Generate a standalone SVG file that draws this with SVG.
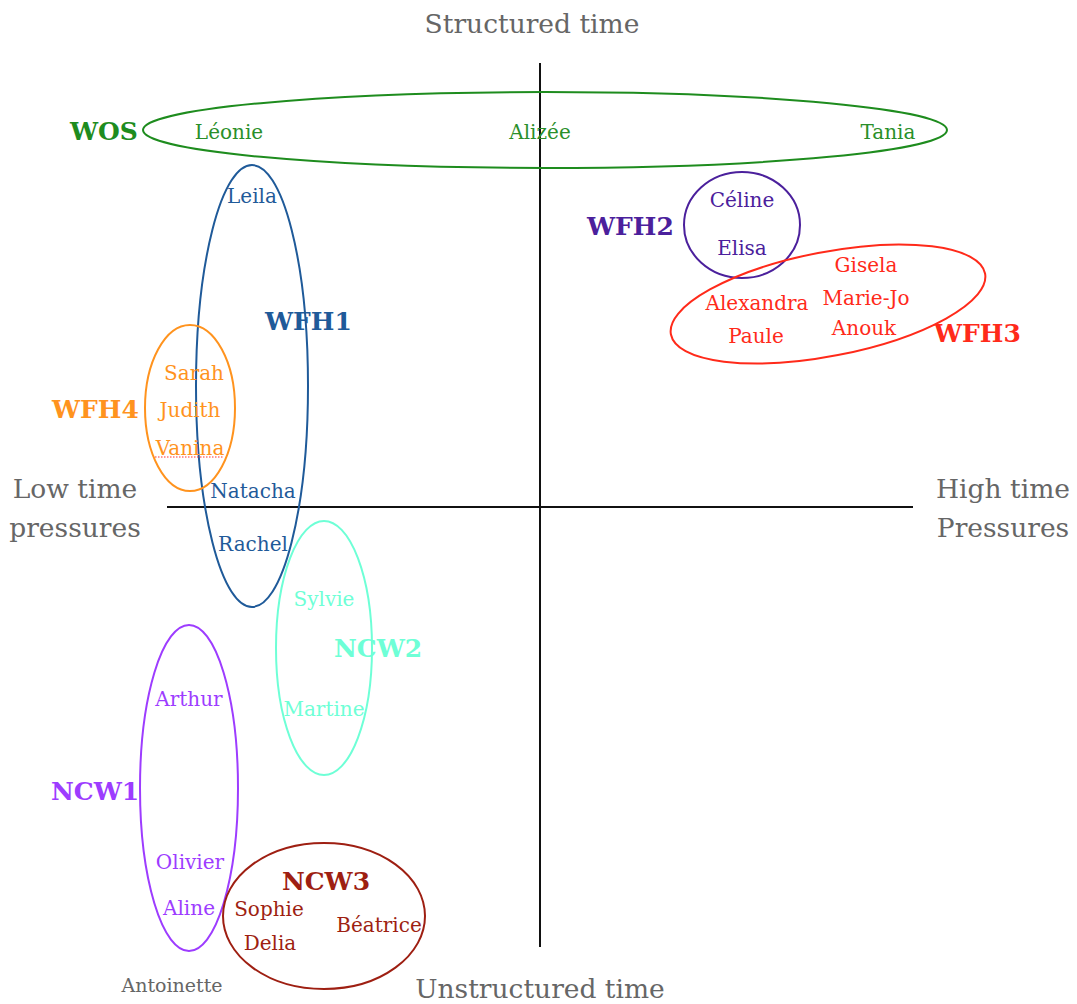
<svg xmlns="http://www.w3.org/2000/svg" width="1077" height="1004" viewBox="0 0 1077 1004">
<style>
text{font-family:"DejaVu Serif","Liberation Serif",serif;}
.ax{font-size:26.5px;fill:#666;}
.nm{font-size:20px;text-anchor:middle;}
.lb{font-size:25px;font-weight:bold;}
.el{fill:none;stroke-width:2;}
.axis{stroke:#111;stroke-width:2;}
</style>
<rect width="1077" height="1004" fill="#fff"/>
<g id="axes">
<line class="axis" x1="540" y1="63" x2="540" y2="947"/>
<line class="axis" x1="167" y1="507" x2="913" y2="507"/>
<text class="ax" x="532" y="33" text-anchor="middle">Structured time</text>
<text class="ax" x="540" y="998" text-anchor="middle">Unstructured time</text>
<text class="ax" x="75" y="498" text-anchor="middle">Low time</text>
<text class="ax" x="75" y="537" text-anchor="middle">pressures</text>
<text class="ax" x="1003" y="498" text-anchor="middle">High time</text>
<text class="ax" x="1003" y="537" text-anchor="middle">Pressures</text>
</g>
<g id="WOS">
<ellipse class="el" cx="545" cy="130" rx="402" ry="38" stroke="#1e8c1e"/>
<text class="lb" x="70" y="140" fill="#1e8c1e">WOS</text>
<g fill="#2a8f2a"><text class="nm" x="229" y="139">Léonie</text><text class="nm" x="540" y="139">Alizée</text><text class="nm" x="888" y="139">Tania</text></g>
</g>
<g id="WFH1">
<ellipse class="el" cx="252" cy="386" rx="56" ry="221" stroke="#1f5a99"/>
<text class="lb" x="265" y="330" fill="#1f5a99">WFH1</text>
<g fill="#1f5a99"><text class="nm" x="252" y="203">Leila</text><text class="nm" x="253" y="498">Natacha</text><text class="nm" x="253" y="551">Rachel</text></g>
</g>
<g id="WFH4">
<ellipse class="el" cx="190" cy="408" rx="45" ry="83" stroke="#ff931e"/>
<text class="lb" x="52" y="418" fill="#ff931e">WFH4</text>
<g fill="#ff931e"><text class="nm" x="194" y="380">Sarah</text><text class="nm" x="190" y="417">Judith</text><text class="nm" x="190" y="455">Vanina</text></g>
<line x1="155" y1="457" x2="224" y2="457" stroke="#ff3030" stroke-width="1.2" stroke-dasharray="1.5 1.5"/>
</g>
<g id="WFH2">
<ellipse class="el" cx="742" cy="225" rx="58" ry="53" stroke="#4b209c"/>
<text class="lb" x="587" y="235" fill="#4b209c">WFH2</text>
<g fill="#4b209c"><text class="nm" x="742" y="207">Céline</text><text class="nm" x="742" y="255">Elisa</text></g>
</g>
<g id="WFH3">
<ellipse class="el" cx="828" cy="304" rx="160" ry="52" transform="rotate(-11 828 304)" stroke="#ff2a1a"/>
<text class="lb" x="934" y="342" fill="#ff2a1a">WFH3</text>
<g fill="#ff2a1a"><text class="nm" x="866" y="272">Gisela</text><text class="nm" x="757" y="310">Alexandra</text><text class="nm" x="866" y="305">Marie-Jo</text><text class="nm" x="756" y="343">Paule</text><text class="nm" x="864" y="335">Anouk</text></g>
</g>
<g id="NCW2">
<ellipse class="el" cx="324" cy="648" rx="48" ry="127" stroke="#6effd6"/>
<text class="lb" x="334" y="657" fill="#6effd6">NCW2</text>
<g fill="#6effd6"><text class="nm" x="324" y="606">Sylvie</text><text class="nm" x="324" y="716">Martine</text></g>
</g>
<g id="NCW1">
<ellipse class="el" cx="189" cy="788" rx="49" ry="163" stroke="#9d3cff"/>
<text class="lb" x="51" y="800" fill="#9d3cff">NCW1</text>
<g fill="#9d3cff"><text class="nm" x="189" y="706">Arthur</text><text class="nm" x="190" y="869">Olivier</text><text class="nm" x="189" y="915">Aline</text></g>
</g>
<g id="NCW3">
<ellipse class="el" cx="324" cy="916" rx="101" ry="73" stroke="#9e1f12"/>
<text class="lb" x="326" y="890" fill="#9e1f12" text-anchor="middle">NCW3</text>
<g fill="#9e1f12"><text class="nm" x="269" y="916">Sophie</text><text class="nm" x="379" y="932">Béatrice</text><text class="nm" x="270" y="950">Delia</text></g>
</g>
<g id="Antoinette">
<text x="172" y="992" font-size="19" fill="#666" text-anchor="middle">Antoinette</text>
</g>
</svg>
